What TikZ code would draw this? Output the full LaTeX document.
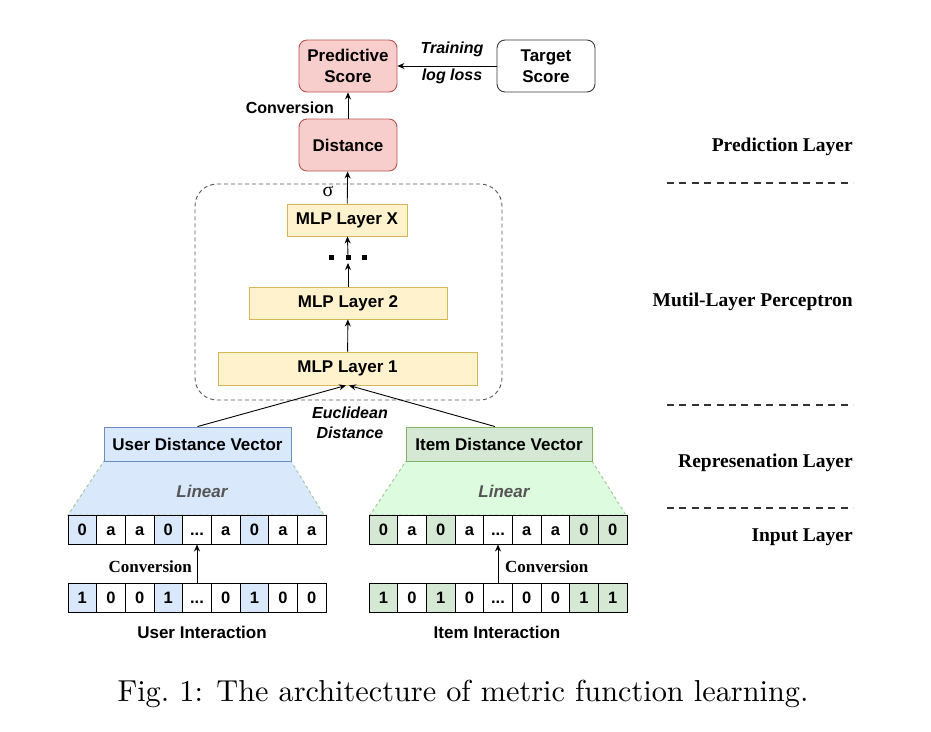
\documentclass[tikz,border=0pt]{standalone}
\usepackage{fontspec}
\newfontfamily\sansf{Liberation Sans}
\newfontfamily\seriff{Liberation Serif}
\usetikzlibrary{arrows.meta,calc}
\definecolor{pinkF}{HTML}{F8CECC}
\definecolor{pinkD}{HTML}{B85450}
\definecolor{yelF}{HTML}{FFF2CC}
\definecolor{yelD}{HTML}{D6B656}
\definecolor{bluF}{HTML}{DAE8FC}
\definecolor{bluD}{HTML}{6C8EBF}
\definecolor{grnF}{HTML}{D5E8D4}
\definecolor{grnD}{HTML}{82B366}
\definecolor{mintF}{HTML}{DDFBDF}
\definecolor{trapD}{HTML}{A8C8A0}
\definecolor{tgtD}{HTML}{36393D}
\definecolor{lingray}{HTML}{555555}
\newcommand\celldots{...}
\begin{document}
\begin{tikzpicture}[x=1pt,y=-1pt,
  lbl/.style={font=\sansf\bfseries\fontsize{17}{20}\selectfont, align=center, inner sep=0pt},
  ital/.style={font=\sansf\bfseries\itshape\fontsize{16}{20}\selectfont, align=center, inner sep=0pt},
  rlbl/.style={font=\seriff\bfseries\fontsize{19.5}{22}\selectfont, inner sep=0pt, anchor=east},
  conv/.style={font=\seriff\bfseries\fontsize{17}{20}\selectfont, inner sep=0pt},
  topbox/.style={lbl, draw=pinkD, fill=pinkF, line width=0.9pt, rounded corners=8pt,
    minimum width=98pt, minimum height=52pt, font=\sansf\bfseries\fontsize{17}{20.5}\selectfont},
  mlp/.style={lbl, draw=yelD, fill=yelF, line width=0.9pt, minimum height=32pt},
  vec/.style={lbl, line width=0.9pt, minimum height=34pt},
  cell/.style={draw, line width=1pt, minimum width=28.667pt, minimum height=29pt, inner sep=0pt,
    text height=11.6pt, text depth=0pt,
    font=\sansf\bfseries\fontsize{16.5}{19}\selectfont},
  arr/.style={-{Stealth[length=7pt,width=6pt]}, line width=0.9pt},
  trap/.style={draw=trapD, dashed, dash pattern=on 3pt off 3pt, line width=1pt},
  sepline/.style={line width=1.5pt, black!80, dash pattern=on 7pt off 5.4pt}
]
\useasboundingbox (0,0) rectangle (931,731);

% container
\node[draw=black!65, dash pattern=on 4pt off 3pt, line width=0.9pt, rounded corners=22pt,
  minimum width=307pt, minimum height=216pt, inner sep=0pt] (mlpgroup) at (348.5,292) {};

% top boxes
\node[topbox] (pred) at (348,66) {Predictive\\Score};
\node[topbox, draw=tgtD, fill=white] (target) at (546,66) {Target\\Score};
\node[topbox] (dist) at (348,145) {Distance};

% MLP layers
\node[mlp, minimum width=120pt] (mlpx) at (347,220) {MLP Layer X};
\node[mlp, minimum width=198pt] (mlp2) at (348,303) {MLP Layer 2};
\node[mlp, minimum width=259pt, minimum height=33pt] (mlp1) at (347.5,368.5) {MLP Layer 1};

% dots
\coordinate (dotst) at (348,256);
\coordinate (dotsb) at (348,263);
\foreach \xx in {331,348,364.5}
  \fill (\xx-2.5,255) rectangle (\xx+2.5,260);

% trapezoids
\filldraw[trap, fill=bluF] (104,461) -- (291,461) -- (324,515) -- (68,515) -- cycle;
\filldraw[trap, fill=mintF] (406,461) -- (592,461) -- (626,515) -- (370,515) -- cycle;
\node[ital, font=\sansf\bfseries\itshape\fontsize{17}{20}\selectfont, text=lingray] (linu) at (202,491) {Linear};
\node[ital, font=\sansf\bfseries\itshape\fontsize{17}{20}\selectfont, text=lingray] (lini) at (504,491) {Linear};

% vectors
\node[vec, draw=bluD, fill=bluF, minimum width=187pt] (uvec) at (197.5,444) {User Distance Vector};
\node[vec, draw=grnD, fill=grnF, minimum width=186pt] (ivec) at (499,444) {Item Distance Vector};

% cells
\foreach \v/\f [count=\i] in {0/bluF,a/white,a/white,0/bluF,\celldots/white,a/white,0/bluF,a/white,a/white}
  \node[cell, fill=\f] (ut\i) at ({68+(\i-0.5)*28.667},529.5) {\v};
\foreach \v/\f [count=\i] in {1/bluF,0/white,0/white,1/bluF,\celldots/white,0/white,1/bluF,0/white,0/white}
  \node[cell, fill=\f] (ub\i) at ({68+(\i-0.5)*28.667},597.5) {\v};
\foreach \v/\f [count=\i] in {0/grnF,a/white,0/grnF,a/white,\celldots/white,a/white,a/white,0/grnF,0/grnF}
  \node[cell, fill=\f] (it\i) at ({369+(\i-0.5)*28.667},529.5) {\v};
\foreach \v/\f [count=\i] in {1/grnF,0/white,1/grnF,0/white,\celldots/white,0/white,0/white,1/grnF,1/grnF}
  \node[cell, fill=\f] (ib\i) at ({369+(\i-0.5)*28.667},597.5) {\v};

% labels
\node[lbl, font=\sansf\bfseries\fontsize{16}{19}\selectfont, anchor=east] (convtop) at (334,108) {Conversion};
\node[ital] (train) at (452,49) {Training};
\node[ital] (logloss) at (452,76) {log loss};
\node[font=\seriff\fontsize{20}{22}\selectfont, inner sep=0pt] (sigma) at (328,191) {σ};
\node[ital, font=\sansf\bfseries\itshape\fontsize{16}{20.5}\selectfont] (eucl) at (350,423) {Euclidean\\Distance};
\node[conv, anchor=east] (convu) at (192,567) {Conversion};
\node[conv, anchor=west] (convi) at (505,567) {Conversion};
\node[lbl] (uint) at (202,632) {User Interaction};
\node[lbl] (iint) at (497,632) {Item Interaction};

% right side
\node[rlbl] (lpred) at (853,147) {Prediction Layer};
\node[rlbl] (lmlp) at (853,302) {Mutil-Layer Perceptron};
\node[rlbl] (lrep) at (853,463) {Represenation Layer};
\node[rlbl] (linp) at (853,537) {Input Layer};
\coordinate (s1a) at (667,183); \coordinate (s1b) at (853,183);
\coordinate (s2a) at (667,405); \coordinate (s2b) at (853,405);
\coordinate (s3a) at (667,508); \coordinate (s3b) at (853,508);
\draw[sepline] (s1a) -- (s1b);
\draw[sepline] (s2a) -- (s2b);
\draw[sepline] (s3a) -- (s3b);

% caption
\node[inner sep=0pt] (cap) at (463,694) {\scalebox{3.03}{Fig.~1: The architecture of metric function learning.}};

% connectors
\draw[arr] (target) -- (pred);
\draw[arr] (dist) -- (pred);
\draw[arr] (mlpx) -- (dist);
\draw[arr] (dotst) -- (mlpx);
\draw[arr] (mlp2) -- (dotsb);
\draw[arr] (mlp1) -- (mlp2);
\draw[arr] (uvec.north) -- ($(mlp1.south)+(-1.5,0)$);
\draw[arr] ($(ivec.north)+(-4,0)$) -- ($(mlp1.south)+(1.5,0)$);
\draw[arr] (ub5) -- (ut5);
\draw[arr] (ib5) -- (it5);
\end{tikzpicture}
\end{document}
